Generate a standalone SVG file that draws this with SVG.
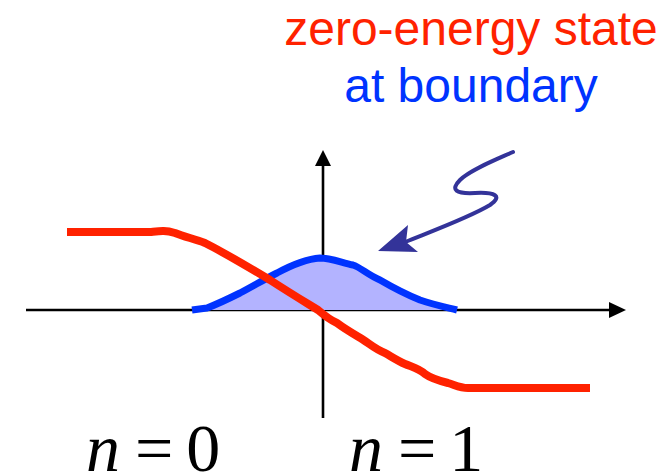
<svg xmlns="http://www.w3.org/2000/svg" width="666" height="476" viewBox="0 0 666 476">
<style>
.axis{stroke:#000;stroke-width:2.6;fill:none}
.head{fill:#000}
.title{font-family:"Liberation Sans",Arial,sans-serif;font-size:48px;text-anchor:middle}
.math{font-family:"Liberation Serif","DejaVu Serif",serif;font-size:68px}
</style>
<rect width="666" height="476" fill="#fff"/>
<g id="connectors">
<line class="axis" x1="26" y1="310" x2="612" y2="310"/>
<polygon class="head" points="626,310 609,302 609,318"/>
<line class="axis" x1="323" y1="418" x2="323" y2="163"/>
<polygon class="head" points="323,150 315,166 331,166"/>
</g>
<g id="wavefunction">
<path d="M192,310 L207,308 C220,303 228,299 240,293 C255,285 265,279 277,273 C290,266 305,259 320,258 C330,258 340,262 353,265 C360,267 368,275 380,280 C392,287 405,294 420,300 C435,305 445,307 457,310 Z" fill="#b3b3ff" stroke="none"/>
<path d="M192,310 L207,308 C220,303 228,299 240,293 C255,285 265,279 277,273 C290,266 305,259 320,258 C330,258 340,262 353,265 C360,267 368,275 380,280 C392,287 405,294 420,300 C435,305 445,307 457,310" fill="none" stroke="#0033ff" stroke-width="7" stroke-linejoin="round"/>
</g>
<g id="domainwall">
<path d="M67,232 L150,232 C160,231 165,230 175,233 C185,237 195,239 205,243 C225,253 250,268 270,280 C290,293 305,302 318,310 C325,316 330,320 337,323 C345,329 352,333 362,339 C370,344 375,349 385,353 C392,357 398,361 405,364 C412,367 418,368 425,374 C432,379 440,381 448,383 C455,385 460,388 468,388 L590,388" fill="none" stroke="#ff2200" stroke-width="8" stroke-linejoin="round"/>
</g>
<g id="pointer">
<path d="M513,152 C495,160 470,170 460,180 C450,190 456,194 475,193 C495,192 503,196 490,205 C470,217 440,228 405,242" fill="none" stroke="#333399" stroke-width="4" stroke-linecap="round"/>
<polygon points="378,251 408,225 406,242 418,252" fill="#333399"/>
</g>
<g id="label-title">
<text class="title" x="471" y="45" fill="#ff2200">zero-energy state</text>
<text class="title" x="471" y="102" fill="#0033ff">at boundary</text>
</g>
<g id="label-n0">
<text class="math" x="86" y="471"><tspan font-style="italic">n</tspan><tspan dx="15">=</tspan><tspan dx="13">0</tspan></text>
</g>
<g id="label-n1">
<text class="math" x="349" y="471"><tspan font-style="italic">n</tspan><tspan dx="15">=</tspan><tspan dx="13">1</tspan></text>
</g>
</svg>
